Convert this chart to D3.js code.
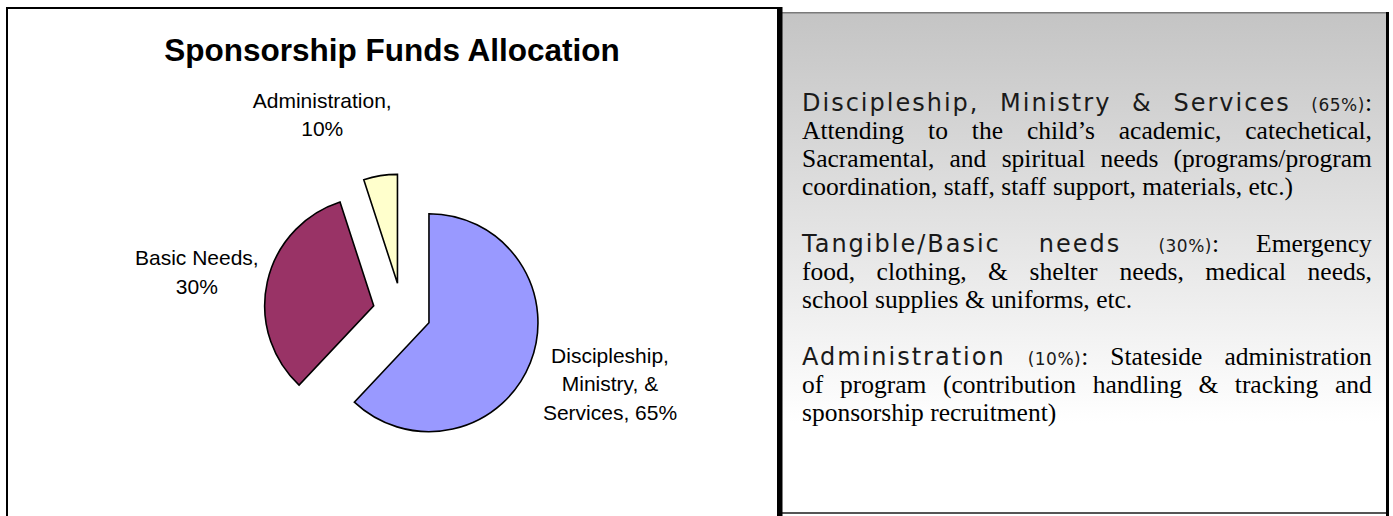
<!DOCTYPE html>
<html><head><meta charset="utf-8">
<script src="https://cdn.jsdelivr.net/npm/d3@7"></script>
<style>body{margin:0;background:#fff}svg{display:block}</style>
</head><body>
<svg id="chart" width="1393" height="516"></svg>
<script>
// ---------- data ----------
const chartTitle = "Sponsorship Funds Allocation";
const categories = ["Discipleship, Ministry, & Services", "Basic Needs", "Administration"];
// slice sizes (labels keep the printed percentages)
const sliceValues = [62, 33, 5];
const labelPercents = ["65%", "30%", "10%"];
const labelLines = [["Discipleship,", "Ministry, &", "Services, 65%"], ["Basic Needs,", "30%"], ["Administration,", "10%"]];
const sliceColors = ["#9999FF", "#993366", "#FFFFCC"];
// label placement (distance from pie centre, angle in degrees clockwise from 12 o'clock)
const labelRadius = [220, 209, 213];
const labelAngle = [109, 281, 338];

const para1 = [
  [[["h","Discipleship,"]], [["h","Ministry"]], [["h","&"]], [["h","Services"]], [["s","(65%)"],["t",":"]]],
  "Attending to the child\u2019s academic, catechetical,",
  "Sacramental, and spiritual needs (programs/program",
  "coordination, staff, staff support, materials, etc.)"
];
const para2 = [
  [[["h","Tangible/Basic"]], [["h","needs"]], [["s","(30%)"],["t",":"]], [["t","Emergency"]]],
  "food, clothing, & shelter needs, medical needs,",
  "school supplies & uniforms, etc."
];
const para3 = [
  [[["h","Administration"]], [["s","(10%)"],["t",":"]], [["t","Stateside"]], [["t","administration"]]],
  "of program (contribution handling & tracking and",
  "sponsorship recruitment)"
];
const paragraphs = [para1, para2, para3];

// ---------- layout ----------
const svg = d3.select("#chart");
const defs = svg.append("defs");
const grad = defs.append("linearGradient").attr("id","bg").attr("x1",0).attr("y1",0).attr("x2",0).attr("y2",1);
grad.append("stop").attr("offset","0%").attr("stop-color","#c4c4c4");
grad.append("stop").attr("offset","82%").attr("stop-color","#ffffff");
grad.append("stop").attr("offset","100%").attr("stop-color","#ffffff");

// left panel frame
svg.append("path").attr("d","M7,520 V8 H778 V520").attr("fill","none").attr("stroke","#000").attr("stroke-width",2);

// title
svg.append("text").attr("x",392).attr("y",61).attr("text-anchor","middle")
  .attr("font-family","'Liberation Sans', Arial, sans-serif").attr("font-weight","bold")
  .attr("font-size","31.5px").attr("fill","#000").text(chartTitle);

// pie
const cx = 402, cy = 312, R = 109, explode = 29;
const pie = d3.pie().sort(null).startAngle(0).endAngle(2*Math.PI);
const arcs = pie(sliceValues);
const arc = d3.arc().innerRadius(0).outerRadius(R);
const g = svg.append("g").attr("transform",`translate(${cx},${cy})`);
g.selectAll("path.slice").data(arcs).join("path").attr("class","slice")
  .attr("transform", d => { const m=(d.startAngle+d.endAngle)/2; return `translate(${explode*Math.sin(m)},${-explode*Math.cos(m)})`; })
  .attr("d", arc).attr("fill",(d,i)=>sliceColors[i]).attr("stroke","#000").attr("stroke-width",1.6).attr("stroke-linejoin","miter");

// labels
const lh = 28.5;
labelLines.forEach((lines,i) => {
  const a = labelAngle[i]*Math.PI/180;
  const lx = labelRadius[i]*Math.sin(a), ly = -labelRadius[i]*Math.cos(a);
  const t = g.append("text").attr("text-anchor","middle")
    .attr("font-family","'Liberation Sans', Arial, sans-serif").attr("font-size","21px").attr("fill","#000");
  const first = ly - (lines.length-1)/2*lh + 7.5;
  lines.forEach((ln,j) => t.append("tspan").attr("x",lx).attr("y",first + j*lh).text(ln));
});

// right panel
const px0 = 780, px1 = 1388, py0 = 12, py1 = 513;
svg.append("rect").attr("x",px0).attr("y",py0).attr("width",px1-px0).attr("height",py1-py0).attr("fill","url(#bg)");
svg.append("line").attr("x1",px0).attr("x2",px1).attr("y1",12.7).attr("y2",12.7).attr("stroke","#7a7a7a").attr("stroke-width",1.5);
svg.append("line").attr("x1",px0).attr("x2",px1).attr("y1",513).attr("y2",513).attr("stroke","#555").attr("stroke-width",2);
svg.append("line").attr("x1",780.5).attr("x2",780.5).attr("y1",7).attr("y2",516).attr("stroke","#000").attr("stroke-width",4);
svg.append("line").attr("x1",1387.5).attr("x2",1387.5).attr("y1",12).attr("y2",516).attr("stroke","#000").attr("stroke-width",3);

const styles = {
  h: {family:"'DejaVu Sans', sans-serif", size:"24px", fill:"#1a1a1a", ls:"2px"},
  s: {family:"'DejaVu Sans', sans-serif", size:"17px", fill:"#1a1a1a", ls:"0.5px"},
  t: {family:"'Liberation Serif', 'Times New Roman', serif", size:"25.5px", fill:"#000", ls:"0px"}
};
const tx0 = 802, tx1 = 1372;
const paraTop = [111, 252, 365];
const step = 28;
const txt = svg.append("g");
const spaceProbe = txt.append("text").attr("font-family",styles.t.family).attr("font-size",styles.t.size).text("a a");
const spaceProbe2 = txt.append("text").attr("font-family",styles.t.family).attr("font-size",styles.t.size).text("aa");
const spaceW = spaceProbe.node().getComputedTextLength() - spaceProbe2.node().getComputedTextLength();
spaceProbe.remove(); spaceProbe2.remove();

paragraphs.forEach((para,pi) => {
  para.forEach((line,li) => {
    const words = typeof line === "string" ? line.split(" ").map(w => [["t",w]]) : line;
    const y = paraTop[pi] + li*step;
    const justify = li < para.length-1;
    const nodes = words.map(runs => {
      const t = txt.append("text").attr("y",y).attr("xml:space","preserve");
      runs.forEach(([st,s]) => t.append("tspan").attr("font-family",styles[st].family)
        .attr("font-size",styles[st].size).attr("letter-spacing",styles[st].ls).attr("fill",styles[st].fill).text(s));
      return t;
    });
    const widths = nodes.map(n => n.node().getBBox().width);
    const total = d3.sum(widths);
    const gap = (justify && nodes.length>1) ? (tx1-tx0-total)/(nodes.length-1) : spaceW;
    let x = tx0;
    nodes.forEach((n,k) => { n.attr("x",x); x += widths[k] + gap; });
  });
});
</script>
</body></html>
